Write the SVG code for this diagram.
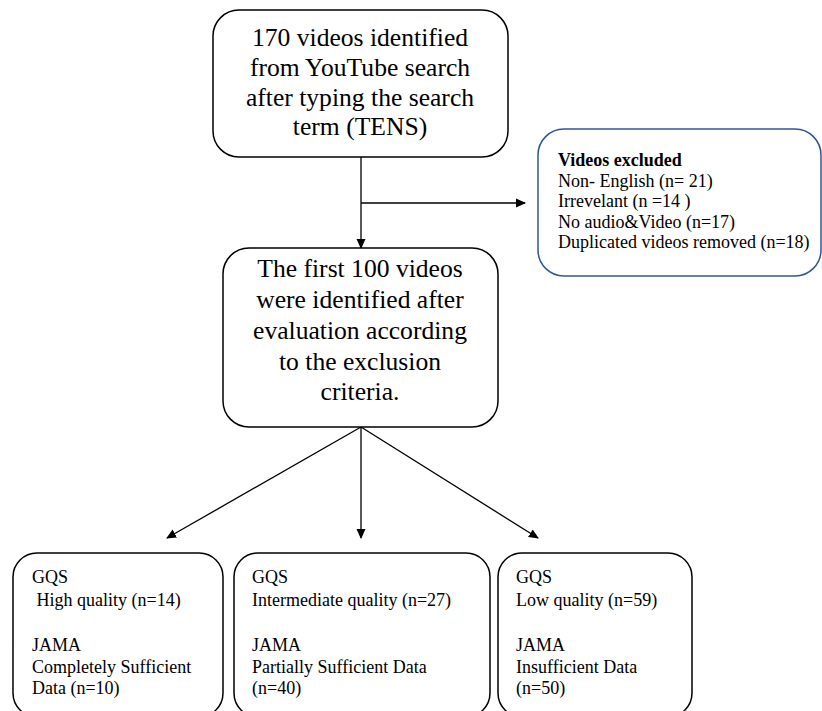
<svg xmlns="http://www.w3.org/2000/svg" width="822" height="711" viewBox="0 0 822 711">
<style>
.box{fill:#fff;stroke:#000;stroke-width:1.5}
.blue{fill:#fff;stroke:#2f5597;stroke-width:1.5}
.big{font-family:"Liberation Serif","Times New Roman",serif;font-size:25.6px;fill:#000;text-anchor:middle}
.sm{font-family:"Liberation Serif","Times New Roman",serif;font-size:18px;fill:#000}
.b{font-weight:bold}
.ln{stroke:#000;stroke-width:1.3;fill:none}
</style>
<defs>
<marker id="ah" markerWidth="10" markerHeight="10" refX="9" refY="5" orient="auto" markerUnits="userSpaceOnUse">
<path d="M0,0.5 L10,5 L0,9.5 Z" fill="#000"/>
</marker>
</defs>
<rect width="822" height="711" fill="#fff"/>
<g id="connectors">
<line class="ln" x1="361" y1="157" x2="361" y2="248" marker-end="url(#ah)"/>
<line class="ln" x1="361" y1="203" x2="525" y2="203" marker-end="url(#ah)"/>
<line class="ln" x1="361" y1="427" x2="167" y2="538" marker-end="url(#ah)"/>
<line class="ln" x1="361" y1="427" x2="361" y2="538" marker-end="url(#ah)"/>
<line class="ln" x1="361" y1="427" x2="538" y2="538" marker-end="url(#ah)"/>
</g>
<g id="n_identified">
<rect class="box" x="213" y="10" width="295" height="147" rx="26"/>
<text class="big" x="360" y="46">170 videos identified</text>
<text class="big" x="360" y="76">from YouTube search</text>
<text class="big" x="360" y="106">after typing the search</text>
<text class="big" x="360" y="135">term (TENS)</text>
</g>
<g id="n_excluded">
<rect class="blue" x="538" y="129" width="283" height="147" rx="26"/>
<text class="sm b" x="558" y="166">Videos excluded</text>
<text class="sm" x="558" y="187">Non- English (n= 21)</text>
<text class="sm" x="558" y="207">Irrevelant (n =14 )</text>
<text class="sm" x="558" y="228">No audio&amp;Video (n=17)</text>
<text class="sm" x="558" y="248">Duplicated videos removed (n=18)</text>
</g>
<g id="n_first100">
<rect class="box" x="223" y="248" width="275" height="179" rx="26"/>
<text class="big" x="360" y="277">The first 100 videos</text>
<text class="big" x="360" y="308">were identified after</text>
<text class="big" x="360" y="339">evaluation according</text>
<text class="big" x="360" y="370">to the exclusion</text>
<text class="big" x="360" y="400">criteria.</text>
</g>
<g id="n_high">
<rect class="box" x="13" y="553" width="210" height="164" rx="24"/>
<text class="sm" x="32" y="583">GQS</text>
<text class="sm" x="32" y="606" xml:space="preserve"> High quality (n=14)</text>
<text class="sm" x="32" y="651">JAMA</text>
<text class="sm" x="32" y="673">Completely Sufficient</text>
<text class="sm" x="32" y="694">Data (n=10)</text>
</g>
<g id="n_intermediate">
<rect class="box" x="234" y="553" width="256" height="164" rx="24"/>
<text class="sm" x="252" y="583">GQS</text>
<text class="sm" x="252" y="606">Intermediate quality (n=27)</text>
<text class="sm" x="252" y="651">JAMA</text>
<text class="sm" x="252" y="673">Partially Sufficient Data</text>
<text class="sm" x="252" y="694">(n=40)</text>
</g>
<g id="n_low">
<rect class="box" x="498" y="553" width="194" height="164" rx="24"/>
<text class="sm" x="516" y="583">GQS</text>
<text class="sm" x="516" y="606">Low quality (n=59)</text>
<text class="sm" x="516" y="651">JAMA</text>
<text class="sm" x="516" y="673">Insufficient Data</text>
<text class="sm" x="516" y="694">(n=50)</text>
</g>
</svg>
